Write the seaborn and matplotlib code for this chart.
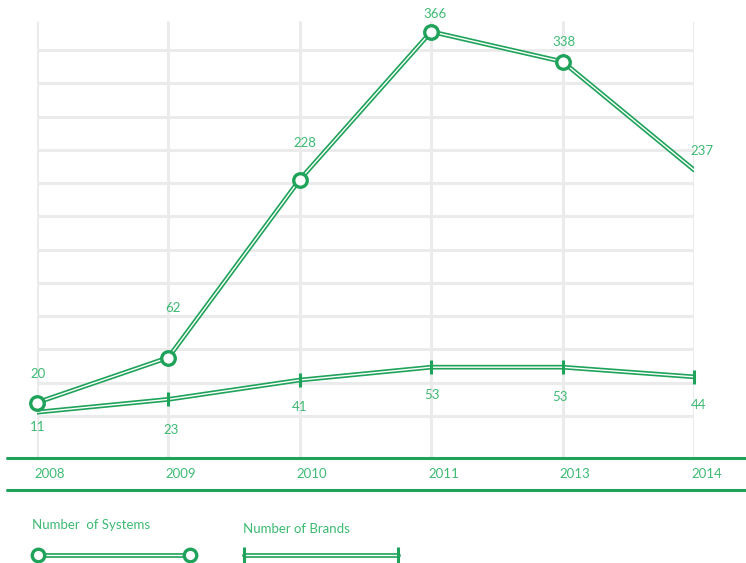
import matplotlib
matplotlib.use("Agg")
import matplotlib.pyplot as plt
import seaborn as sns
import pandas as pd
from matplotlib.lines import Line2D

sns.set_theme(style="white")
plt.rcParams["font.family"] = ["Lato", "DejaVu Sans"]

years = ["2008", "2009", "2010", "2011", "2013", "2014"]
systems = [20, 62, 228, 366, 338, 237]
brands = [11, 23, 41, 53, 53, 44]

LINE = "#1fa35a"
TEXT = "#3dba73"
GRID = "#ebebeb"

W, H = 746, 563
fig = plt.figure(figsize=(W / 100, H / 100), dpi=100)

# pixel layout
x0, x1 = 37, 694
ytop, ybot = 19, 458
zero_px, px_per_unit = 424, 1.072

def fx(px):
    return px / W

def fy(py):
    return 1 - py / H

# background grid axes
gax = fig.add_axes([fx(x0), fy(ybot), fx(x1) - fx(x0), fy(ytop) - fy(ybot)])
gax.set_xlim(0, len(years) - 1)
gax.set_ylim(ybot, ytop)
gax.axis("off")
for i in range(len(years)):
    gax.plot([i, i], [ybot, 21], color=GRID, lw=2.2, solid_capstyle="butt", zorder=0)
for k in range(12):
    yy = 50 + k * 33.27
    gax.plot([0, len(years) - 1], [yy, yy], color=GRID, lw=2.2, solid_capstyle="butt", zorder=0)

# data axes
ax = fig.add_axes(gax.get_position(), facecolor="none")
ax.set_xlim(0, len(years) - 1)
ax.set_ylim((zero_px - ybot) / px_per_unit, (zero_px - ytop) / px_per_unit)
ax.axis("off")

df = pd.DataFrame({"x": range(len(years)), "year": years,
                   "Systems": systems, "Brands": brands})

for col in ["Systems", "Brands"]:
    sns.lineplot(data=df, x="x", y=col, ax=ax, color=LINE, lw=3.4, zorder=3, legend=False)
    sns.lineplot(data=df, x="x", y=col, ax=ax, color="white", lw=1.0, zorder=4, legend=False)

ax.scatter(df["x"][:-1], df["Systems"][:-1], s=95, facecolor="white", edgecolor=LINE,
           linewidth=2.4, zorder=6, clip_on=False)
ax.scatter(df["x"][1:], df["Brands"][1:], marker="|", s=110, color=LINE, linewidth=2.2,
           zorder=6, clip_on=False)

# value labels
sys_off = [(1, 29), (5, 50), (5, 37), (4, 18), (1, 20), (8, 19)]
brand_off = [(1, -15), (3, -31), (0, -27), (1, -28), (-3, -30), (5, -28)]
for i, v in enumerate(systems):
    ax.annotate(str(v), (i, v), xytext=sys_off[i], textcoords="offset pixels",
                ha="center", va="center", color=TEXT, fontsize=9.5, clip_on=False, zorder=7)
for i, v in enumerate(brands):
    ax.annotate(str(v), (i, v), xytext=brand_off[i], textcoords="offset pixels",
                ha="center", va="center", color=TEXT, fontsize=9.5, clip_on=False, zorder=7)

# axis bands
fig.add_artist(Line2D([fx(7), 1], [fy(458), fy(458)], color=LINE, lw=2.2))
fig.add_artist(Line2D([fx(7), 1], [fy(490), fy(490)], color=LINE, lw=2.2))
for i, yr in enumerate(years):
    ax.annotate(yr, (i, 0), xycoords=("data", "axes fraction"), xytext=(-3, -16),
                textcoords="offset pixels", ha="left", va="center", color=TEXT, fontsize=9.5)

# legend
fig.text(fx(32), fy(525), "Number  of Systems", color=TEXT, fontsize=9.5, va="center", ha="left")
fig.text(fx(243), fy(529), "Number of Brands", color=TEXT, fontsize=9.5, va="center", ha="left")
ly1 = fy(555)
fig.add_artist(Line2D([fx(38), fx(190)], [ly1, ly1], color=LINE, lw=3.4))
fig.add_artist(Line2D([fx(38), fx(190)], [ly1, ly1], color="white", lw=1.0))
fig.add_artist(Line2D([fx(38), fx(190)], [ly1, ly1], lw=0, marker="o", markersize=9,
                      markerfacecolor="white", markeredgecolor=LINE, markeredgewidth=2.4))
ly2 = fy(555)
fig.add_artist(Line2D([fx(244), fx(398)], [ly2, ly2], color=LINE, lw=3.4))
fig.add_artist(Line2D([fx(244), fx(398)], [ly2, ly2], color="white", lw=1.0))
fig.add_artist(Line2D([fx(244), fx(398)], [ly2, ly2], lw=0, marker="|", markersize=11,
                      color=LINE, markeredgewidth=2.2))

fig.savefig("out.png", dpi=100)
